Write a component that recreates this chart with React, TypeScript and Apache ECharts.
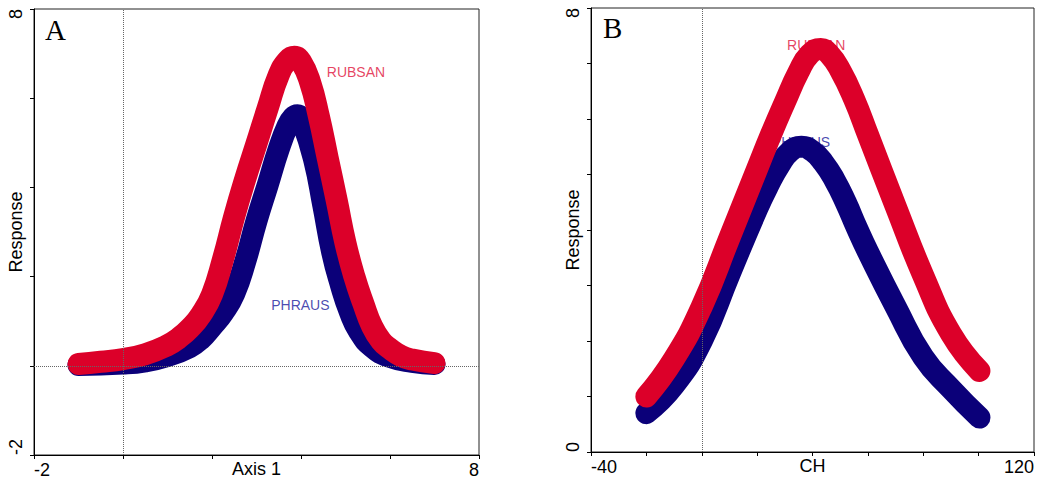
import React, { useEffect, useRef } from 'react';
import * as echarts from 'echarts';

// ---------- Panel A (x: Axis 1, y: Response) ----------
const A_X_RANGE = [-2, 8];
const A_Y_RANGE = [-2, 8];
const A_X_TICK_LABELS = ['-2', '8'];
const A_Y_TICK_LABELS = ['-2', '8'];

const A_RUBSAN: [number, number][] = [
  [-1.0, 0.04], [-0.5, 0.09], [0.0, 0.15], [0.5, 0.26], [1.0, 0.46], [1.25, 0.62],
  [1.5, 0.84], [1.75, 1.14], [2.0, 1.6], [2.25, 2.4], [2.5, 3.35], [2.75, 4.2],
  [3.0, 4.98], [3.25, 5.77], [3.5, 6.52], [3.7, 6.85], [3.85, 6.93], [4.0, 6.82],
  [4.2, 6.37], [4.4, 5.6], [4.6, 4.66], [4.8, 3.72], [5.0, 2.75], [5.2, 2.0],
  [5.4, 1.4], [5.6, 0.88], [5.8, 0.56], [6.0, 0.38], [6.25, 0.22], [6.5, 0.14], [7.0, 0.06],
];
const A_PHRAUS: [number, number][] = [
  [-1.0, 0.02], [0.0, 0.05], [0.5, 0.1], [1.0, 0.22], [1.5, 0.42], [1.75, 0.6],
  [2.0, 0.88], [2.25, 1.19], [2.5, 1.62], [2.75, 2.35], [3.0, 3.25], [3.25, 4.05],
  [3.5, 4.86], [3.7, 5.38], [3.82, 5.57], [3.92, 5.62], [4.05, 5.42], [4.3, 4.6],
  [4.5, 3.6], [4.7, 2.55], [4.9, 1.8], [5.1, 1.2], [5.3, 0.78], [5.6, 0.42],
  [6.0, 0.2], [6.5, 0.09], [7.0, 0.04],
];
const A_LABELS = [
  { name: 'RUBSAN', x: 4.58, y: 6.58 },
  { name: 'PHRAUS', x: 3.33, y: 1.37 },
];

// ---------- Panel B (x: CH, y: Response) ----------
const B_X_RANGE = [-40, 120];
const B_Y_RANGE = [0, 8];
const B_X_TICK_LABELS = ['-40', '120'];
const B_Y_TICK_LABELS = ['0', '8'];

const B_RUBSAN: [number, number][] = [
  [-20, 1.0], [-10, 1.68], [0, 2.62], [10, 3.86], [20, 5.1], [25, 5.72], [30, 6.3],
  [35, 6.85], [39, 7.17], [43, 7.26], [46, 7.17], [50, 6.88], [55, 6.36], [60, 5.72],
  [70, 4.43], [80, 3.18], [90, 2.13], [100.3, 1.46],
];
const B_PHRAUS: [number, number][] = [
  [-20, 0.7], [-10, 1.2], [0, 2.0], [10, 3.2], [20, 4.38], [24, 4.8], [28, 5.16],
  [32, 5.42], [36, 5.5], [40, 5.42], [44, 5.21], [48, 4.9], [52, 4.5], [56, 4.04],
  [60, 3.61], [70, 2.62], [80, 1.71], [90, 1.14], [100.3, 0.62],
];
const B_LABELS = [
  { name: 'RUBSAN', x: 30.8, y: 7.33 },
  { name: 'PHRAUS', x: 25.3, y: 5.59 },
];

const RED = '#DC0029';
const BLUE = '#0B0079';
const RED_TEXT = '#E0103A';
const BLUE_TEXT = '#1A1A9C';
const FONT = 'Liberation Sans, Arial, sans-serif';

function makeAxis(
  gridIndex: number,
  range: number[],
  interval: number,
  tickLabels: string[],
  name: string,
  isY: boolean
) {
  return {
    type: 'value',
    gridIndex,
    min: range[0],
    max: range[1],
    interval,
    name,
    nameLocation: 'middle',
    nameGap: isY ? 9 : 5,
    nameMoveOverlap: false,
    nameTextStyle: { fontSize: 18, color: '#000', fontFamily: FONT },
    axisLine: { show: true, onZero: false, lineStyle: { color: '#000', width: 1 } },
    axisTick: { show: true, length: 4, lineStyle: { color: '#000', width: 1 } },
    splitLine: { show: false },
    axisLabel: {
      fontSize: 18,
      color: '#000',
      fontFamily: FONT,
      margin: isY ? 9 : 6,
      rotate: isY ? 90 : 0,
      showMinLabel: true,
      showMaxLabel: true,
      alignMinLabel: 'left',
      alignMaxLabel: 'right',
      formatter: (v: number) => {
        if (v === range[0]) return tickLabels[0];
        if (v === range[1]) return tickLabels[1];
        return '';
      },
    },
  };
}

function labelSeries(
  xi: number,
  labels: { name: string; x: number; y: number }[],
  markData: any[]
) {
  return {
    type: 'scatter',
    xAxisIndex: xi,
    yAxisIndex: xi,
    z: 1,
    symbolSize: 0,
    silent: true,
    data: labels.map((l, i) => ({
      value: [l.x, l.y],
      name: l.name,
      label: { color: i === 0 ? RED_TEXT : BLUE_TEXT },
    })),
    label: {
      show: true,
      position: 'right',
      distance: 0,
      formatter: '{b}',
      fontSize: 14,
      fontFamily: FONT,
    },
    markLine: {
      silent: true,
      symbol: 'none',
      label: { show: false },
      lineStyle: { type: 'dotted', color: '#666', width: 1 },
      data: markData,
    },
  };
}

function curve(xi: number, data: [number, number][], color: string) {
  return {
    type: 'line',
    xAxisIndex: xi,
    yAxisIndex: xi,
    z: 2,
    data,
    smooth: 0.5,
    symbol: 'none',
    silent: true,
    lineStyle: { width: 22, color, cap: 'round', join: 'round' },
  };
}

export default function App() {
  const ref = useRef<HTMLDivElement>(null);
  useEffect(() => {
    const chart = echarts.init(ref.current!, null, { renderer: 'svg' });
    chart.setOption({
      animation: false,
      backgroundColor: '#fff',
      grid: [
        { left: 34, top: 9, width: 445, height: 446, show: true, borderColor: '#222', borderWidth: 1, outerBoundsMode: 'none', containLabel: false },
        { left: 591, top: 8, width: 443, height: 444, show: true, borderColor: '#222', borderWidth: 1, outerBoundsMode: 'none', containLabel: false },
      ],
      xAxis: [
        makeAxis(0, A_X_RANGE, 2, A_X_TICK_LABELS, 'Axis 1', false),
        makeAxis(1, B_X_RANGE, 20, B_X_TICK_LABELS, 'CH', false),
      ],
      yAxis: [
        makeAxis(0, A_Y_RANGE, 2, A_Y_TICK_LABELS, 'Response', true),
        makeAxis(1, B_Y_RANGE, 1, B_Y_TICK_LABELS, 'Response', true),
      ],
      graphic: [
        { type: 'text', left: 45, top: 15, style: { text: 'A', fontSize: 29, fontFamily: 'Liberation Serif, Times New Roman, serif', fill: '#000' } },
        { type: 'text', left: 603, top: 13, style: { text: 'B', fontSize: 29, fontFamily: 'Liberation Serif, Times New Roman, serif', fill: '#000' } },
      ],
      series: [
        labelSeries(0, A_LABELS, [{ xAxis: 0 }, { yAxis: 0 }]),
        curve(0, A_PHRAUS, BLUE),
        curve(0, A_RUBSAN, RED),
        labelSeries(1, B_LABELS, [{ xAxis: 0 }]),
        curve(1, B_PHRAUS, BLUE),
        curve(1, B_RUBSAN, RED),
      ],
    });
    return () => chart.dispose();
  }, []);
  return (
    <div
      ref={ref}
      style={{ position: 'absolute', left: 0, top: 0, width: 1037, height: 481 }}
    />
  );
}
